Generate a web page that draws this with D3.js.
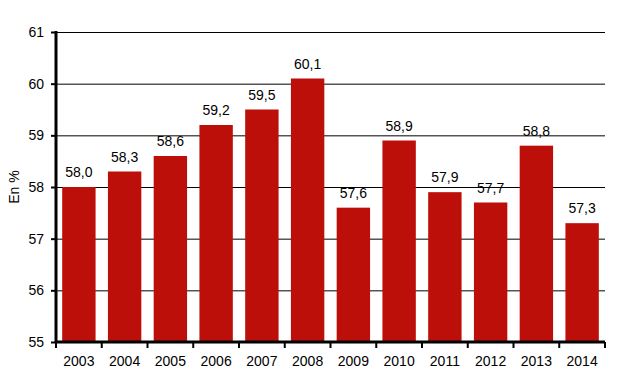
<!DOCTYPE html>
<html><head><meta charset="utf-8">
<script src="https://cdn.jsdelivr.net/npm/d3@7"></script>
<style>body{margin:0;background:#fff}svg{display:block}text{font-family:"Liberation Sans",Arial,sans-serif}</style>
</head><body>
<svg id="c" width="617" height="379"></svg>
<script>
const years = ["2003","2004","2005","2006","2007","2008","2009","2010","2011","2012","2013","2014"];
const values = [58.0,58.3,58.6,59.2,59.5,60.1,57.6,58.9,57.9,57.7,58.8,57.3];
const yTicks = [55,56,57,58,59,60,61];

const svg = d3.select("#c");
const m = {l:56, r:12, t:32, b:37};
const W = 617, H = 379;
const FS = 14;
const x = d3.scaleBand().domain(years).range([m.l, W-m.r]).paddingInner(0.27).paddingOuter(0.135);
const y = d3.scaleLinear().domain([55,61]).range([H-m.b, m.t]);

svg.append("g").selectAll("line").data(yTicks.slice(1)).join("line")
  .attr("x1", m.l).attr("x2", W-m.r)
  .attr("y1", d=>y(d)+0.5).attr("y2", d=>y(d)+0.5)
  .attr("stroke","#000").attr("stroke-width",1);

svg.append("g").selectAll("rect").data(values).join("rect")
  .attr("x",(d,i)=>x(years[i])).attr("width",x.bandwidth())
  .attr("y",d=>y(d)).attr("height",d=>y(55)-y(d))
  .attr("fill","#bd0f0a");

svg.append("g").selectAll("text").data(values).join("text")
  .attr("x",(d,i)=>x(years[i])+x.bandwidth()/2)
  .attr("y",d=>y(d)-10)
  .attr("text-anchor","middle").attr("font-size",FS).attr("fill","#000")
  .text(d=>d.toFixed(1).replace(".",","));

const ya = svg.append("g").attr("transform",`translate(${m.l},0)`)
  .call(d3.axisLeft(y).tickValues(yTicks).tickSize(5).tickPadding(7).tickFormat(d3.format("d")));
ya.select(".domain").attr("stroke-width",3).attr("d",`M0,${y(61)-1}V${y(55)+1}`);
ya.selectAll(".tick line").attr("stroke-width",2);
ya.selectAll("text").attr("font-size",FS).attr("fill","#000").style("font-family",'"Liberation Sans",Arial,sans-serif');

const xa = svg.append("g").attr("transform",`translate(0,${y(55)})`)
  .call(d3.axisBottom(x).tickSize(0).tickPadding(14));
xa.select(".domain").attr("stroke-width",3).attr("d",`M${m.l},0H${W-m.r}`);
xa.selectAll("text").attr("font-size",FS).attr("fill","#000").style("font-family",'"Liberation Sans",Arial,sans-serif');

svg.append("g").selectAll("line").data(d3.range(years.length+1)).join("line")
  .attr("x1",i=>m.l + i*(W-m.r-m.l)/years.length).attr("x2",i=>m.l + i*(W-m.r-m.l)/years.length)
  .attr("y1",y(55)).attr("y2",y(55)+6)
  .attr("stroke","#000").attr("stroke-width",2);

svg.append("text").attr("transform",`translate(19,${(y(55)+y(61))/2}) rotate(-90)`)
  .attr("text-anchor","middle").attr("font-size",FS).text("En %");
</script>
</body></html>
